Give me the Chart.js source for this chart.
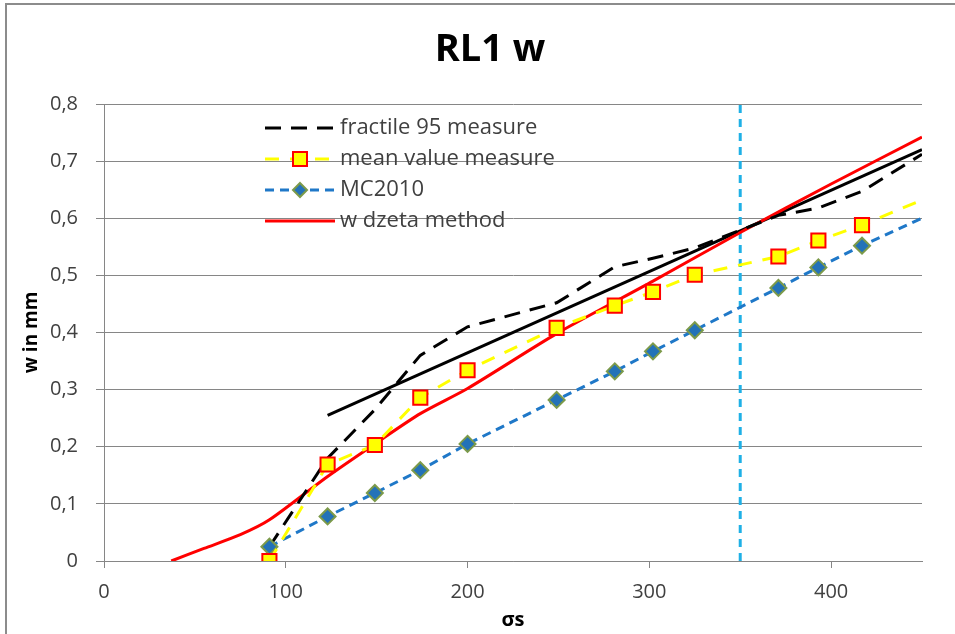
<!DOCTYPE html>
<html>
<head>
<meta charset="utf-8">
<script src="https://cdn.jsdelivr.net/npm/chart.js@4/dist/chart.umd.min.js"></script>
<style>
  html, body { margin: 0; padding: 0; background: #fff; }
  #wrap { width: 955px; height: 634px; position: relative; }
</style>
</head>
<body>
<div id="wrap"><canvas id="rl1-chart"></canvas></div>
<script>
// values
const sigmaMeasured = [91, 123, 149, 174, 200, 249, 281, 302, 325, 371, 393, 417, 450];
const fractile95 = [0.025, 0.18, 0.265, 0.36, 0.41, 0.452, 0.515, 0.53, 0.548, 0.605, 0.618, 0.647, 0.712];
const meanValue = [0, 0.169, 0.203, 0.286, 0.334, 0.408, 0.447, 0.471, 0.501, 0.533, 0.561, 0.588, 0.632];
const mc2010 = [0.025, 0.078, 0.119, 0.159, 0.205, 0.282, 0.332, 0.367, 0.404, 0.478, 0.514, 0.552, 0.6];

const sigmaDzeta = [37, 55, 75, 91, 123, 149, 174, 200, 249, 302, 350, 400, 450];
const wDzeta = [0, 0.022, 0.046, 0.072, 0.148, 0.205, 0.258, 0.302, 0.398, 0.49, 0.575, 0.66, 0.742];

const trendX = [123, 450];
const trendY = [0.255, 0.72];

const limitX = [350, 350];
const limitY = [0, 0.8];

const xTicks = [0, 100, 200, 300, 400];

const chartTitle = 'RL1 w';

const pairs = (xs, ys) => xs.map((x, i) => ({ x: x, y: ys[i] }));

// last point of the measured series has no marker (line only runs to the edge)
const markerSizes = (r) => sigmaMeasured.map((_, i) => (i === sigmaMeasured.length - 1 ? 0 : r));

const legendCount = 4;
const font = '"Open Sans", sans-serif';

const frameAndTitle = {
  id: 'frameAndTitle',
  beforeDraw(chart) {
    const ctx = chart.ctx;
    ctx.save();
    ctx.strokeStyle = '#8c8c8c';
    ctx.lineWidth = 2;
    ctx.beginPath();
    ctx.moveTo(6, 640);
    ctx.lineTo(6, 4);
    ctx.lineTo(960, 4);
    ctx.stroke();
    ctx.fillStyle = '#000000';
    ctx.font = 'bold 38px ' + font;
    ctx.textAlign = 'center';
    ctx.textBaseline = 'middle';
    ctx.fillText(chartTitle, 490, 50);
    ctx.restore();
  }
};

// legend drawn over the plot, like the Excel original
const innerLegend = {
  id: 'innerLegend',
  afterDraw(chart) {
    const ctx = chart.ctx;
    const x0 = 265, x1 = 335, textX = 340;
    const rows = [128, 159, 190, 221];
    ctx.save();
    chart.data.datasets.slice(0, legendCount).forEach((ds, i) => {
      const y = rows[i];
      ctx.strokeStyle = ds.borderColor;
      ctx.lineWidth = ds.borderWidth;
      ctx.setLineDash(ds.borderDash || []);
      ctx.beginPath();
      ctx.moveTo(x0, y);
      ctx.lineTo(x1, y);
      ctx.stroke();
      ctx.setLineDash([]);
      const cx = (x0 + x1) / 2;
      if (ds.pointStyle === 'rect') {
        ctx.fillStyle = ds.pointBackgroundColor;
        ctx.strokeStyle = ds.pointBorderColor;
        ctx.lineWidth = 2;
        ctx.fillRect(cx - 7, y - 7, 14, 14);
        ctx.strokeRect(cx - 7, y - 7, 14, 14);
      } else if (ds.pointStyle === 'rectRot') {
        const r = 7;
        ctx.fillStyle = ds.pointBackgroundColor;
        ctx.strokeStyle = ds.pointBorderColor;
        ctx.lineWidth = 2;
        ctx.beginPath();
        ctx.moveTo(cx, y - r);
        ctx.lineTo(cx + r, y);
        ctx.lineTo(cx, y + r);
        ctx.lineTo(cx - r, y);
        ctx.closePath();
        ctx.fill();
        ctx.stroke();
      }
      ctx.fillStyle = '#404040';
      ctx.font = '22px ' + font;
      ctx.textBaseline = 'middle';
      ctx.fillText(ds.label, textX, y);
    });
    ctx.restore();
  }
};

const ctx = document.getElementById('rl1-chart').getContext('2d');
new Chart(ctx, {
  type: 'scatter',
  data: {
    datasets: [
      {
        label: 'fractile 95 measure',
        data: pairs(sigmaMeasured, fractile95),
        showLine: true,
        borderColor: '#000000',
        borderWidth: 3,
        borderDash: [16, 10],
        pointRadius: 0,
        order: 3
      },
      {
        label: 'mean value measure',
        data: pairs(sigmaMeasured, meanValue),
        showLine: true,
        borderColor: '#ffff00',
        borderWidth: 3,
        borderDash: [14, 11],
        pointStyle: 'rect',
        pointRadius: markerSizes(10),
        pointBackgroundColor: '#ffff00',
        pointBorderColor: '#ff0000',
        pointBorderWidth: 2,
        order: 1
      },
      {
        label: 'MC2010',
        data: pairs(sigmaMeasured, mc2010),
        showLine: true,
        borderColor: '#1f78c8',
        borderWidth: 3,
        borderDash: [9, 6],
        pointStyle: 'rectRot',
        pointRadius: markerSizes(8),
        pointBackgroundColor: '#2372b8',
        pointBorderColor: '#7c9a4a',
        pointBorderWidth: 2,
        order: 2
      },
      {
        label: 'w dzeta method',
        data: pairs(sigmaDzeta, wDzeta),
        showLine: true,
        borderColor: '#ff0000',
        borderWidth: 3,
        tension: 0.25,
        pointRadius: 0,
        order: 4
      },
      {
        label: 'trend',
        data: pairs(trendX, trendY),
        showLine: true,
        borderColor: '#000000',
        borderWidth: 3,
        pointRadius: 0,
        order: 5
      },
      {
        label: 'limit',
        data: pairs(limitX, limitY),
        showLine: true,
        borderColor: '#1fb0e6',
        borderWidth: 3,
        borderDash: [8, 6],
        pointRadius: 0,
        order: 6
      }
    ]
  },
  options: {
    responsive: true,
    maintainAspectRatio: false,
    animation: false,
    layout: { padding: { left: 8, right: 33, top: 104, bottom: 0 } },
    plugins: {
      legend: { display: false },
      tooltip: { enabled: false },
      title: { display: false }
    },
    scales: {
      x: {
        type: 'linear',
        min: 0,
        max: 450,
        afterBuildTicks: (scale) => {
          scale.ticks = xTicks.map(v => ({ value: v }));
        },
        afterFit: (scale) => { scale.height = 73; },
        border: { color: '#868686', width: 1 },
        grid: { drawOnChartArea: false, tickLength: 7, color: '#868686' },
        ticks: {
          color: '#404040',
          padding: 12,
          font: { family: font, size: 20 }
        },
        title: {
          display: true,
          text: 'σs',
          color: '#000000',
          padding: { top: 0, bottom: 2 },
          font: { family: font, size: 20, weight: 'bold' }
        }
      },
      y: {
        min: 0,
        max: 0.8,
        afterFit: (scale) => { scale.width = 96; },
        border: { color: '#868686', width: 1 },
        grid: { color: '#868686', tickLength: 8 },
        ticks: {
          stepSize: 0.1,
          color: '#404040',
          padding: 18,
          font: { family: font, size: 20 },
          callback: (v) => (v === 0 ? '0' : v.toFixed(1).replace('.', ','))
        },
        title: {
          display: true,
          text: 'w in mm',
          color: '#000000',
          padding: { top: 12, bottom: 0 },
          font: { family: font, size: 19, weight: 'bold' }
        }
      }
    }
  },
  plugins: [frameAndTitle, innerLegend]
});
</script>
</body>
</html>
